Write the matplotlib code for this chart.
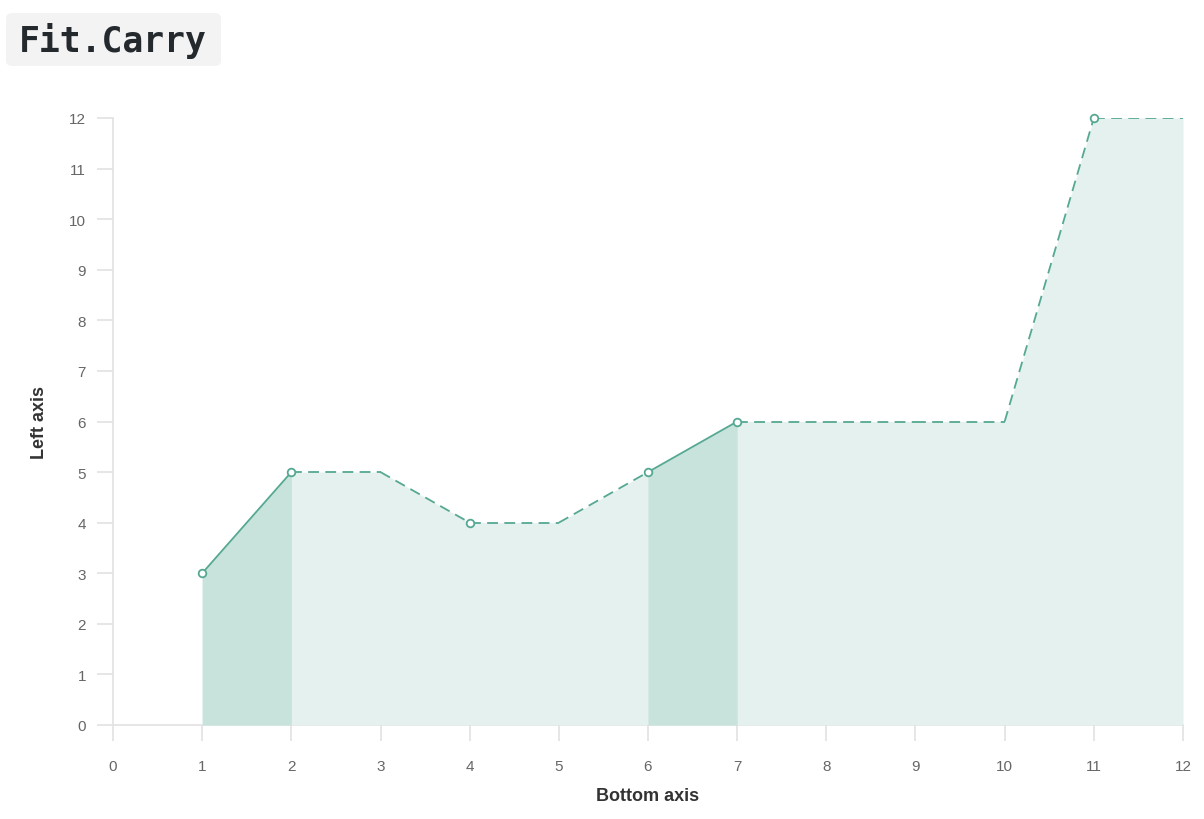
import numpy as np
import matplotlib.pyplot as plt
from matplotlib.patches import FancyBboxPatch

plt.rcParams['font.family'] = ['Liberation Sans', 'DejaVu Sans']

# raw series, None = missing
x_vals = list(range(13))
y_vals = [None, 3, 5, None, 4, None, 5, 6, None, None, None, 12, None]
x_ticks = list(range(13))
y_ticks = list(range(13))

LINE = '#55a892'
FILL_LIGHT = '#e4f1ee'
FILL_DARK = '#c8e2dc'
GRID = '#e2e2e2'

# carry last value forward
carried = []
last = None
for v in y_vals:
    if v is not None:
        last = v
    carried.append(last)

fig = plt.figure(figsize=(12.04, 8.2), dpi=100)
ax = fig.add_axes([113 / 1204, 1 - 726 / 820, (1183 - 113) / 1204, (726 - 119) / 820])

xs = np.array([x for x, c in zip(x_vals, carried) if c is not None], dtype=float)
cs = np.array([c for c in carried if c is not None], dtype=float)

# light fill under the whole carried line
ax.fill_between(xs, 0, cs, color=FILL_LIGHT, lw=0, zorder=1)

# segments: solid where both ends are real, dashed otherwise
for i in range(len(x_vals) - 1):
    a, b = carried[i], carried[i + 1]
    if a is None or b is None:
        continue
    real = y_vals[i] is not None and y_vals[i + 1] is not None
    seg_x = [x_vals[i], x_vals[i + 1]]
    seg_y = [a, b]
    if real:
        ax.fill_between(seg_x, 0, seg_y, color=FILL_DARK, lw=0, zorder=2)
        ax.plot(seg_x, seg_y, color=LINE, lw=1.3, zorder=3,
                solid_capstyle='round')
    else:
        ax.plot(seg_x, seg_y, color=LINE, lw=1.3, zorder=3,
                dashes=(6, 3.5))

px = [x for x, v in zip(x_vals, y_vals) if v is not None]
py = [v for v in y_vals if v is not None]
ax.plot(px, py, ls='none', marker='o', ms=5.5, mfc='white', mec=LINE,
        mew=1.3, zorder=4, clip_on=False)

ax.set_xlim(0, 12)
ax.set_ylim(0, 12)
ax.set_xticks(x_ticks)
ax.set_yticks(y_ticks)
for s in ['top', 'right']:
    ax.spines[s].set_visible(False)
for s in ['left', 'bottom']:
    ax.spines[s].set_color(GRID)
    ax.spines[s].set_linewidth(1.2)
    ax.spines[s].set_zorder(0.5)
ax.tick_params(axis='both', length=11.5, width=1.2, color=GRID,
               labelcolor='#666666', labelsize=11)
ax.tick_params(axis='x', pad=13)
ax.tick_params(axis='y', pad=8)

ax.set_xlabel('Bottom axis', fontsize=13, fontweight='bold',
              color='#333333', labelpad=10)
ax.set_ylabel('Left axis', fontsize=13, fontweight='bold',
              color='#333333', labelpad=15)

# title badge
box = FancyBboxPatch((6 / 1204, 1 - 67 / 820), (221 - 6) / 1204,
                     (67 - 14) / 820,
                     boxstyle='round,pad=0,rounding_size=0.006',
                     transform=fig.transFigure, facecolor='#f3f3f3',
                     edgecolor='none')
fig.patches.append(box)
fig.text(19 / 1204, 1 - 41 / 820, 'Fit.Carry', fontsize=25,
         fontfamily='DejaVu Sans Mono', fontweight='bold', color='#24292e',
         va='center', ha='left')

fig.savefig('out.png', dpi=100)
